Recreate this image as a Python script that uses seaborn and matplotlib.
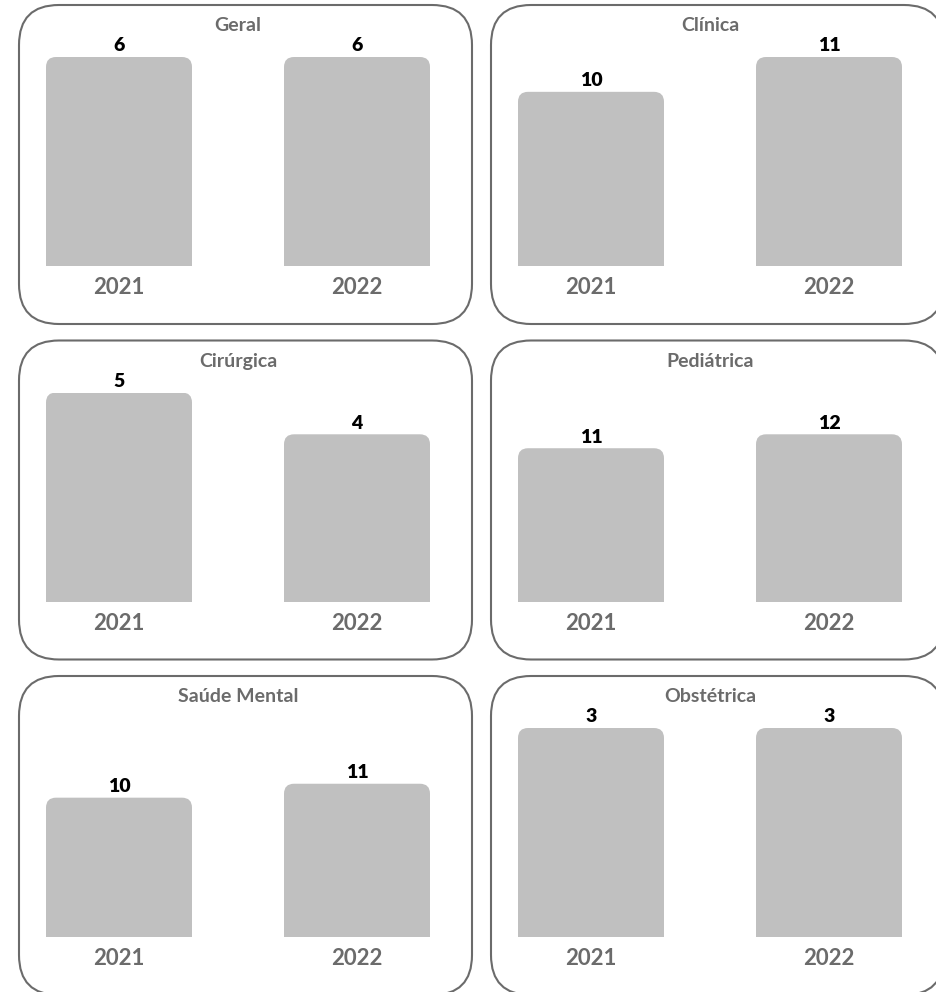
import numpy as np
import matplotlib
matplotlib.use("Agg")
import matplotlib.pyplot as plt
from matplotlib.patches import FancyBboxPatch, Rectangle
import seaborn as sns

# data
categories = ["Geral", "Clínica", "Cirúrgica", "Pediátrica", "Saúde Mental", "Obstétrica"]
years = ["2021", "2022"]
values_2021 = [6, 10, 5, 11, 10, 3]
values_2022 = [6, 11, 4, 12, 11, 3]
# value-axis range of each panel (each panel has its own scale)
y_lower = [0, 5, 0, 0, 0, 0]
y_upper = [6, 11, 5, 15, 15, 3]

sns.set_style("white")
plt.rcParams['font.family'] = ['Lato', 'DejaVu Sans']

W, H = 936, 992
fig = plt.figure(figsize=(W / 100, H / 100), dpi=100)

bar_color = '#c0c0c0'
box_color = '#6b6b6b'
label_color = '#6b6b6b'

col_step, row_step = 472, 335.5
unit = 238.0          # pixels between the two bar centres
bar_w = 146 / unit

for k, cat in enumerate(categories):
    r, c = divmod(k, 2)
    dx, dy = c * col_step, r * row_step

    # rounded frame around each panel (filled white so agg does not clip the curves)
    bx, by, bw, bh = 19 + dx, 5 + dy, 453, 319
    fig.add_artist(FancyBboxPatch((bx / W, 1 - (by + bh) / H), bw / W, bh / H,
                                  boxstyle="round,pad=0,rounding_size=%f" % (40 / W),
                                  mutation_aspect=W / H, transform=fig.transFigure,
                                  facecolor='white', edgecolor=box_color, lw=1.5,
                                  zorder=-5))

    # axes: bottom at the bar base, top at full-scale height
    base, top = 266 + dy, 57 + dy
    ax = fig.add_axes([bx / W, 1 - base / H, bw / W, (base - top) / H])
    vals = [values_2021[k], values_2022[k]]
    sns.barplot(x=years, y=vals, ax=ax, color=bar_color, width=bar_w, saturation=1)

    ax.set_xlim((bx - (119 + dx)) / unit, (bx + bw - (119 + dx)) / unit)
    ax.set_ylim(y_lower[k], y_upper[k])

    # swap plain bars for bars with rounded tops
    aspect = ((y_upper[k] - y_lower[k]) / (base - top)) * unit
    r_x = 10 / unit
    r_y = r_x * aspect
    for p in list(ax.patches):
        x0, w, h = p.get_x(), p.get_width(), p.get_height()
        p.set_visible(False)
        ax.add_patch(FancyBboxPatch((x0, 0), w, h,
                                    boxstyle="round,pad=0,rounding_size=%f" % r_x,
                                    mutation_aspect=aspect, facecolor=bar_color,
                                    edgecolor='none'))
        ax.add_patch(Rectangle((x0, 0), w, h - r_y, facecolor=bar_color,
                               edgecolor='none'))

    for i, v in enumerate(vals):
        ax.annotate(str(v), (i, v), xytext=(0, 4), textcoords='offset points',
                    ha='center', va='baseline', fontsize=14, fontweight='heavy',
                    color='black', annotation_clip=False)

    ax.annotate(cat, (0.5, 1), xycoords=('data', 'axes fraction'),
                xytext=(0, 18.5), textcoords='offset points', ha='center', va='baseline',
                fontsize=14, fontweight='bold', color=label_color)

    ax.set_xticks([0, 1])
    ax.set_xticklabels(years, fontsize=16, fontweight='bold', color=label_color)
    ax.tick_params(axis='x', length=0, pad=8)
    ax.set_yticks([])
    ax.set_xlabel('')
    ax.set_ylabel('')
    for s in ax.spines.values():
        s.set_visible(False)
    ax.patch.set_visible(False)

fig.savefig('out.png', dpi=100)
